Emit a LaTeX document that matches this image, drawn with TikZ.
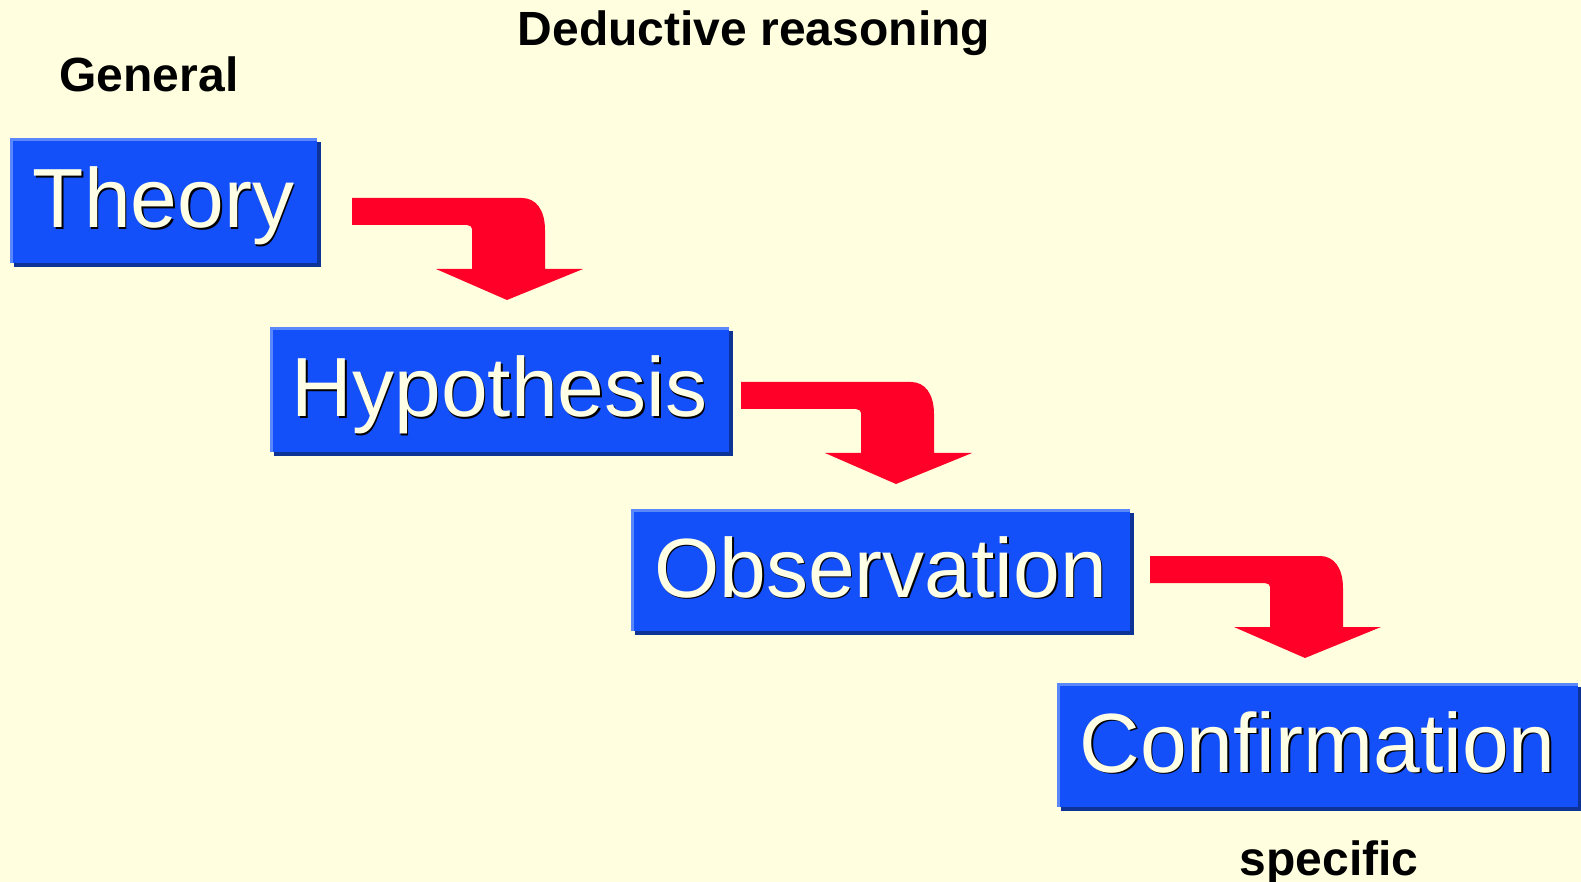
\documentclass[tikz,border=0pt]{standalone}
\usepackage{fontspec}
\setmainfont{Liberation Sans}
\usetikzlibrary{positioning,calc}
\definecolor{paper}{HTML}{FFFFE0}
\definecolor{boxblue}{HTML}{1450FA}
\definecolor{boxlight}{HTML}{5A88FA}
\definecolor{boxdark}{HTML}{0C3395}
\definecolor{arrowred}{HTML}{FF0028}
\definecolor{cream}{HTML}{FFFFE6}
\newcommand{\shadowtext}[1]{\makebox[0pt][l]{\hspace{0.8pt}\raisebox{-0.8pt}{\color{black}#1}}#1}
\tikzset{
  stepbox/.style={fill=boxblue,inner sep=0pt,text=cream,text height=36pt,text depth=9pt,
    font=\fontsize{42}{48}\selectfont},
  highedge/.style={draw=boxlight,line width=1.5pt},
  lowedge/.style={draw=boxdark,line width=2pt},
  label/.style={font=\bfseries\fontsize{24}{28}\selectfont},
  turnarrow/.pic={
    \fill[arrowred] (0,0) -- (170,0) .. controls (184,0) and (193,12) .. (193,32)
      -- (193,71) -- (231,71) -- (155,102) -- (84,71) -- (120,71) -- (120,31)
      .. controls (120,29) and (118,27) .. (115,27) -- (0,27) -- cycle;
  }
}

\begin{document}
\begin{tikzpicture}[x=0.5pt,y=-0.5pt]
  \useasboundingbox[fill=paper] (0,0) rectangle (1581,882);
  % headings
  \node[label] (title) at (754,33) {Deductive reasoning};
  \node[label] (general) at (149,74) {General};
  \node[label,anchor=base] (specific) at (1329,875) {specific};
  % steps
  \node[stepbox,minimum width=153.5pt,minimum height=62.5pt] (theory) at (163.5,200.5) {\shadowtext{Theory}};
  \node[stepbox,minimum width=229.5pt,minimum height=62.5pt] (hypo) at (499.5,389.5) {\shadowtext{Hypothesis}};
  \node[stepbox,minimum width=249.5pt,minimum height=61pt] (obs) at (880.5,570) {\shadowtext{Observation}};
  \node[stepbox,minimum width=260.5pt,minimum height=62pt] (conf) at (1317.5,745) {\shadowtext{Confirmation}};
  \foreach \n in {theory,hypo,obs,conf} {
    \draw[lowedge] ([xshift=2pt,yshift=-1pt]\n.south west) -- ([xshift=1pt,yshift=-1pt]\n.south east)
      -- ([xshift=1pt,yshift=-2pt]\n.north east);
    \draw[highedge] ([xshift=0.75pt]\n.south west) -- ([xshift=0.75pt,yshift=-0.75pt]\n.north west)
      -- ([yshift=-0.75pt]\n.north east);
  }
  % arrows
  \pic at (352,198) {turnarrow};
  \pic at (741,382) {turnarrow};
  \pic at (1150,556) {turnarrow};
\end{tikzpicture}
\end{document}
